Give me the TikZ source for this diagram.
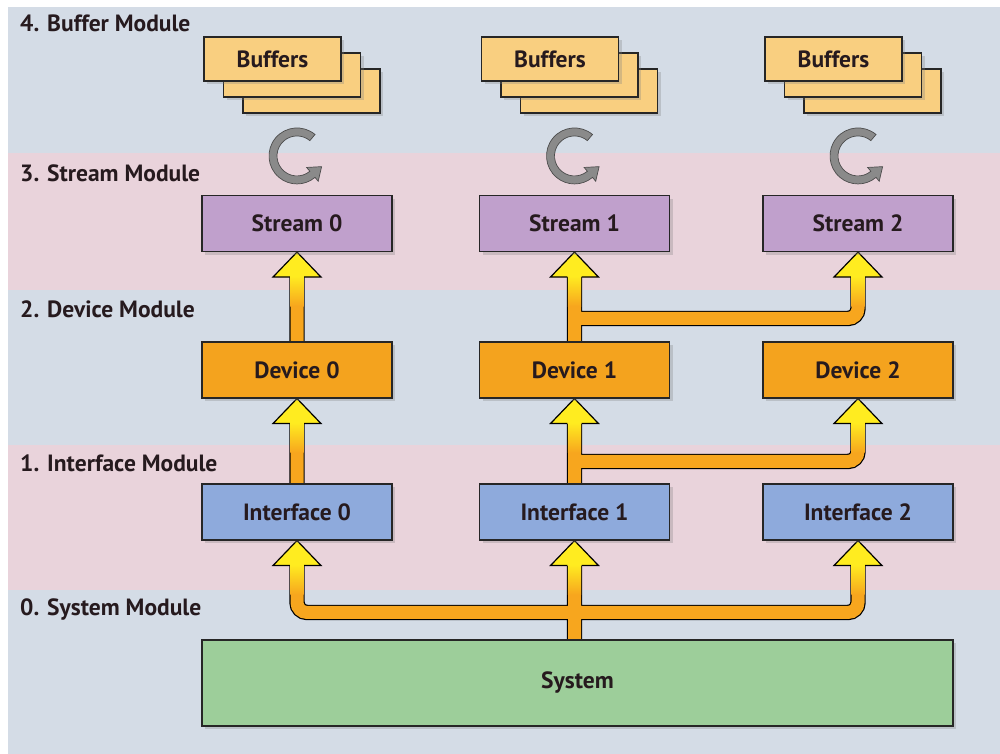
\documentclass[tikz,border=0pt]{standalone}
\usepackage{fontspec}
\setmainfont{PT Sans}
\usetikzlibrary{calc, shadows}
\definecolor{bandblue}{RGB}{212, 220, 230}
\definecolor{bandpink}{RGB}{233, 211, 219}
\definecolor{buffill}{RGB}{249, 207, 128}
\definecolor{strfill}{RGB}{192, 160, 204}
\definecolor{devfill}{RGB}{244, 163, 30}
\definecolor{intfill}{RGB}{142, 170, 220}
\definecolor{sysfill}{RGB}{157, 206, 154}
\definecolor{arrowtop}{RGB}{255, 236, 32}
\definecolor{arrowbody}{RGB}{247, 166, 30}
\definecolor{ringgray}{RGB}{138, 138, 138}
\definecolor{textdark}{RGB}{38, 26, 30}
\pgfdeclarelayer{bands}
\pgfdeclarelayer{flow}
\pgfsetlayers{bands, flow, main}
\newcommand{\labelfont}{\fontsize{23.5}{27}\selectfont\bfseries}
\newcommand{\fathead}[1]{%
  \shade[top color=arrowtop, bottom color=arrowbody]
    ($#1+(-6.6,24)$) rectangle ($#1+(6.6,54)$);
  \fill[arrowtop] #1 -- ($#1+(24,25)$) -- ($#1+(-24,25)$) -- cycle;
  \draw[line width=1.2pt, line join=miter]
    ($#1+(7.2,25)$) -- ($#1+(24,25)$) -- #1 -- ($#1+(-24,25)$) -- ($#1+(-7.2,25)$);
}
\newcommand{\cyclearrow}[1]{%
  \begin{scope}[shift={#1}, yscale=-1]
    \filldraw[fill=ringgray, draw=black!70, line width=0.7pt]
      (50:28) arc[start angle=50, end angle=310, radius=28]
      -- (310:33) -- (24.6,-10.7) -- (310:15) -- (310:20)
      arc[start angle=310, end angle=50, radius=20] -- cycle;
  \end{scope}
}

\begin{document}
\begin{tikzpicture}[x=1pt, y=-1pt,
  modbox/.style={draw=black!85, line width=1.1pt, minimum width=190pt,
    minimum height=56pt, text=textdark, font=\labelfont,
    drop shadow={shadow xshift=3pt, shadow yshift=-3pt, opacity=0.3}},
  bufbox/.style={modbox, fill=buffill, minimum width=137pt, minimum height=44pt},
  modlabel/.style={anchor=base west, font=\labelfont, text=textdark, inner sep=0pt}]

  \useasboundingbox (0, 0) rectangle (1000, 754);

  % module bands
  \begin{pgfonlayer}{bands}
    \fill[bandblue] (8, 7) rectangle (1000, 754);
    \fill[bandpink] (8, 153) rectangle (1000, 290);
    \fill[bandpink] (8, 445) rectangle (1000, 590);
  \end{pgfonlayer}
  \node[modlabel] (lab4) at (20, 32) {4. Buffer Module};
  \node[modlabel] (lab3) at (20, 182) {3. Stream Module};
  \node[modlabel] (lab2) at (20, 317) {2. Device Module};
  \node[modlabel] (lab1) at (20, 471) {1. Interface Module};
  \node[modlabel] (lab0) at (20, 615) {0. System Module};

  % buffers
  \node[bufbox] (buf0c) at (311.5, 91) {};
  \node[bufbox] (buf0b) at (292, 75) {};
  \node[bufbox] (buf0a) at (272.5, 59) {Buffers};
  \node[bufbox] (buf1c) at (589, 91) {};
  \node[bufbox] (buf1b) at (569.5, 75) {};
  \node[bufbox] (buf1a) at (550, 59) {Buffers};
  \node[bufbox] (buf2c) at (872.5, 91) {};
  \node[bufbox] (buf2b) at (853, 75) {};
  \node[bufbox] (buf2a) at (833.5, 59) {Buffers};

  % modules
  \node[modbox, fill=strfill] (str0) at (297, 223.5) {Stream 0};
  \node[modbox, fill=strfill] (str1) at (574.5, 223.5) {Stream 1};
  \node[modbox, fill=strfill] (str2) at (858, 223.5) {Stream 2};
  \node[modbox, fill=devfill] (dev0) at (297, 370) {Device 0};
  \node[modbox, fill=devfill] (dev1) at (574.5, 370) {Device 1};
  \node[modbox, fill=devfill] (dev2) at (858, 370) {Device 2};
  \node[modbox, fill=intfill] (int0) at (297, 512) {Interface 0};
  \node[modbox, fill=intfill] (int1) at (574.5, 512) {Interface 1};
  \node[modbox, fill=intfill] (int2) at (858, 512) {Interface 2};
  \node[modbox, fill=sysfill, minimum width=751pt, minimum height=86pt]
    (sys) at (577.5, 683) {System};

  \cyclearrow{($(str0.north)+(0,-39)$)}
  \cyclearrow{($(str1.north)+(0,-39)$)}
  \cyclearrow{($(str2.north)+(0,-39)$)}

  % data flow
  \begin{pgfonlayer}{flow}
    \foreach \c/\w in {black/15.4, arrowbody/13} {
      \draw[draw=\c, line width=\w pt, rounded corners=10pt]
        (dev0.north) -- ($(str0.south)+(0,25)$)
        (int0.north) -- ($(dev0.south)+(0,25)$)
        (dev1.north) -- ($(str1.south)+(0,25)$)
        ($(dev1.north)+(0,-23)$) -| ($(str2.south)+(0,25)$)
        (int1.north) -- ($(dev1.south)+(0,25)$)
        ($(int1.north)+(0,-22)$) -| ($(dev2.south)+(0,25)$)
        (int1.south |- sys.north) -- ($(int1.south)+(0,25)$)
        ($(int0.south)+(0,25)$) |- ($(sys.north)+(0,-27)$)
          -| ($(int2.south)+(0,25)$);
    }
    \fathead{(str0.south)}
    \fathead{(str1.south)}
    \fathead{(str2.south)}
    \fathead{(dev0.south)}
    \fathead{(dev1.south)}
    \fathead{(dev2.south)}
    \fathead{(int0.south)}
    \fathead{(int1.south)}
    \fathead{(int2.south)}
  \end{pgfonlayer}

\end{tikzpicture}
\end{document}
